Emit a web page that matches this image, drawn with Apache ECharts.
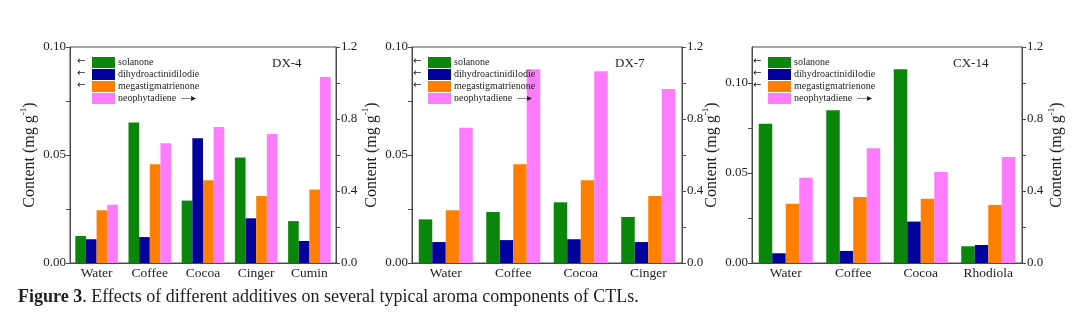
<!DOCTYPE html>
<html>
<head>
<meta charset="utf-8">
<script src="https://cdn.jsdelivr.net/npm/echarts@6/dist/echarts.min.js"></script>
<style>
  html, body { margin: 0; padding: 0; background: #fff; }
  #chart { width: 1080px; height: 336px; }
</style>
</head>
<body>
<div id="chart"></div>
<script>
// Aroma component content for three tobacco samples treated with different additives
const seriesNames = ['solanone', 'dihydroactinidilodie', 'megastigmatrienone', 'neophytadiene'];
const seriesColors = ['#0a870a', '#00009c', '#ff8000', '#ff7cff'];

const categoriesDX4 = ['Water', 'Coffee', 'Cocoa', 'Cinger', 'Cumin'];
const solanoneDX4 = [0.0125, 0.0651, 0.0289, 0.0489, 0.0194];
const dihydroDX4 = [0.0110, 0.0120, 0.0577, 0.0207, 0.0102];
const megastigDX4 = [0.0244, 0.0457, 0.0383, 0.0310, 0.0340];
const neophytDX4 = [0.324, 0.665, 0.756, 0.717, 1.033];

const categoriesDX7 = ['Water', 'Coffee', 'Cocoa', 'Cinger'];
const solanoneDX7 = [0.0202, 0.0236, 0.0281, 0.0213];
const dihydroDX7 = [0.0097, 0.0106, 0.0110, 0.0097];
const megastigDX7 = [0.0244, 0.0457, 0.0383, 0.0310];
const neophytDX7 = [0.752, 1.076, 1.065, 0.967];

const categoriesCX14 = ['Water', 'Coffee', 'Cocoa', 'Rhodiola'];
const solanoneCX14 = [0.0773, 0.0849, 0.1076, 0.0093];
const dihydroCX14 = [0.0054, 0.0067, 0.0230, 0.0100];
const megastigCX14 = [0.0329, 0.0366, 0.0357, 0.0323];
const neophytCX14 = [0.474, 0.637, 0.506, 0.589];

// Left (mg g-1) and right (mg g-1) axis tick marks and labels
const leftTicks = [0, 0.025, 0.05, 0.075, 0.1];
const leftLabels = [0, 0.05, 0.1];
const rightTicks = [0, 0.2, 0.4, 0.6, 0.8, 1.0, 1.2];
const rightLabels = [0, 0.4, 0.8, 1.2];

const panels = [
  { tag: 'DX-4', cats: categoriesDX4, data: [solanoneDX4, dihydroDX4, megastigDX4, neophytDX4],
    left: 70, width: 266, leftMax: 0.1, rightName: false, legendLeft: 92, tagX: 272 },
  { tag: 'DX-7', cats: categoriesDX7, data: [solanoneDX7, dihydroDX7, megastigDX7, neophytDX7],
    left: 412, width: 270, leftMax: 0.1, rightName: false, legendLeft: 428, tagX: 615 },
  { tag: 'CX-14', cats: categoriesCX14, data: [solanoneCX14, dihydroCX14, megastigCX14, neophytCX14],
    left: 752, width: 270, leftMax: 0.12, rightName: true, leftNameGap: 30, legendLeft: 768, tagX: 953 }
];

const FONT = 'Liberation Serif';
const TXT = '#1e1e1e';
const AXIS = '#4a4a4a';
const TOP = 47, HEIGHT = 216;

const unitName = 'Content (mg g{sup|-1})';
const nameStyle = {
  fontSize: 16, fontFamily: FONT, color: TXT, lineHeight: 20,
  rich: { sup: { fontSize: 9, fontFamily: FONT, color: TXT, verticalAlign: 'top', lineHeight: 9 } }
};

const grid = [], xAxis = [], yAxis = [], series = [], legend = [], graphic = [];

panels.forEach((p, i) => {
  grid.push({ left: p.left, top: TOP, width: p.width, height: HEIGHT,
    show: true, borderColor: AXIS, borderWidth: 1, backgroundColor: 'transparent' });

  xAxis.push({
    type: 'category', gridIndex: i, data: p.cats,
    axisLine: { lineStyle: { color: AXIS, width: 1 } },
    axisTick: { inside: true, length: 4, lineStyle: { color: AXIS } },
    axisLabel: { interval: 0, margin: 3, fontSize: 13.5, fontFamily: FONT, color: TXT }
  });

  yAxis.push({
    type: 'value', gridIndex: i, position: 'left', min: 0, max: p.leftMax,
    name: unitName, nameLocation: 'middle', nameRotate: 90,
    nameGap: p.leftNameGap || 27, nameTextStyle: nameStyle,
    axisLine: { show: true, lineStyle: { color: AXIS, width: 1 } },
    axisTick: { show: true, length: 4, customValues: leftTicks, lineStyle: { color: AXIS } },
    axisLabel: { customValues: leftLabels, margin: 4, fontSize: 13, fontFamily: FONT, color: TXT,
      formatter: v => v.toFixed(2) },
    splitLine: { show: false }
  });

  yAxis.push({
    type: 'value', gridIndex: i, position: 'right', min: 0, max: 1.2,
    name: p.rightName ? unitName : '', nameLocation: 'middle', nameRotate: 90,
    nameGap: 23, nameTextStyle: nameStyle,
    axisLine: { show: true, lineStyle: { color: AXIS, width: 1 } },
    axisTick: { show: true, length: 4, customValues: rightTicks, lineStyle: { color: AXIS } },
    axisLabel: { customValues: rightLabels, margin: 5, fontSize: 13, fontFamily: FONT, color: TXT,
      formatter: v => v.toFixed(1) },
    splitLine: { show: false }
  });

  p.data.forEach((vals, k) => {
    series.push({
      type: 'bar', name: seriesNames[k], xAxisIndex: i,
      yAxisIndex: k === 3 ? 2 * i + 1 : 2 * i,
      data: vals, barGap: '0%', barCategoryGap: '20%',
      itemStyle: { color: seriesColors[k] },
      emphasis: { disabled: true }
    });
  });

  legend.push({
    orient: 'vertical', left: p.legendLeft, top: 57, padding: 0,
    itemWidth: 23, itemHeight: 11, itemGap: 1, icon: 'rect',
    data: seriesNames.slice(),
    textStyle: { fontSize: 10, fontFamily: FONT, color: TXT, lineHeight: 11, padding: [0, 0, 0, -2] },
    formatter: name => name === 'neophytadiene' ? name + '  \u2014\u25B8' : name,
    selectedMode: false
  });

  // direction markers: the first three components read on the left axis
  [0, 1, 2].forEach(r => {
    graphic.push({ type: 'text', left: p.legendLeft - 15, top: 57 + r * 12 - 1,
      style: { text: '\u2190', fontSize: 10, fontFamily: 'DejaVu Sans', fill: TXT } });
  });

  graphic.push({ type: 'text', left: p.tagX, top: 57,
    style: { text: p.tag, fontSize: 13, fontFamily: FONT, fill: TXT } });
});

const chart = echarts.init(document.getElementById('chart'), null, { renderer: 'canvas' });
chart.setOption({
  backgroundColor: '#fff',
  animation: false,
  title: {
    left: 18, top: 288, padding: 0,
    text: '{b|Figure 3}. Effects of different additives on several typical aroma components of CTLs.',
    textStyle: {
      fontSize: 18, fontFamily: FONT, fontWeight: 'normal', color: TXT,
      rich: { b: { fontSize: 18, fontFamily: FONT, fontWeight: 'bold', color: TXT } }
    }
  },
  grid, xAxis, yAxis, series, legend, graphic
});
</script>
</body>
</html>
